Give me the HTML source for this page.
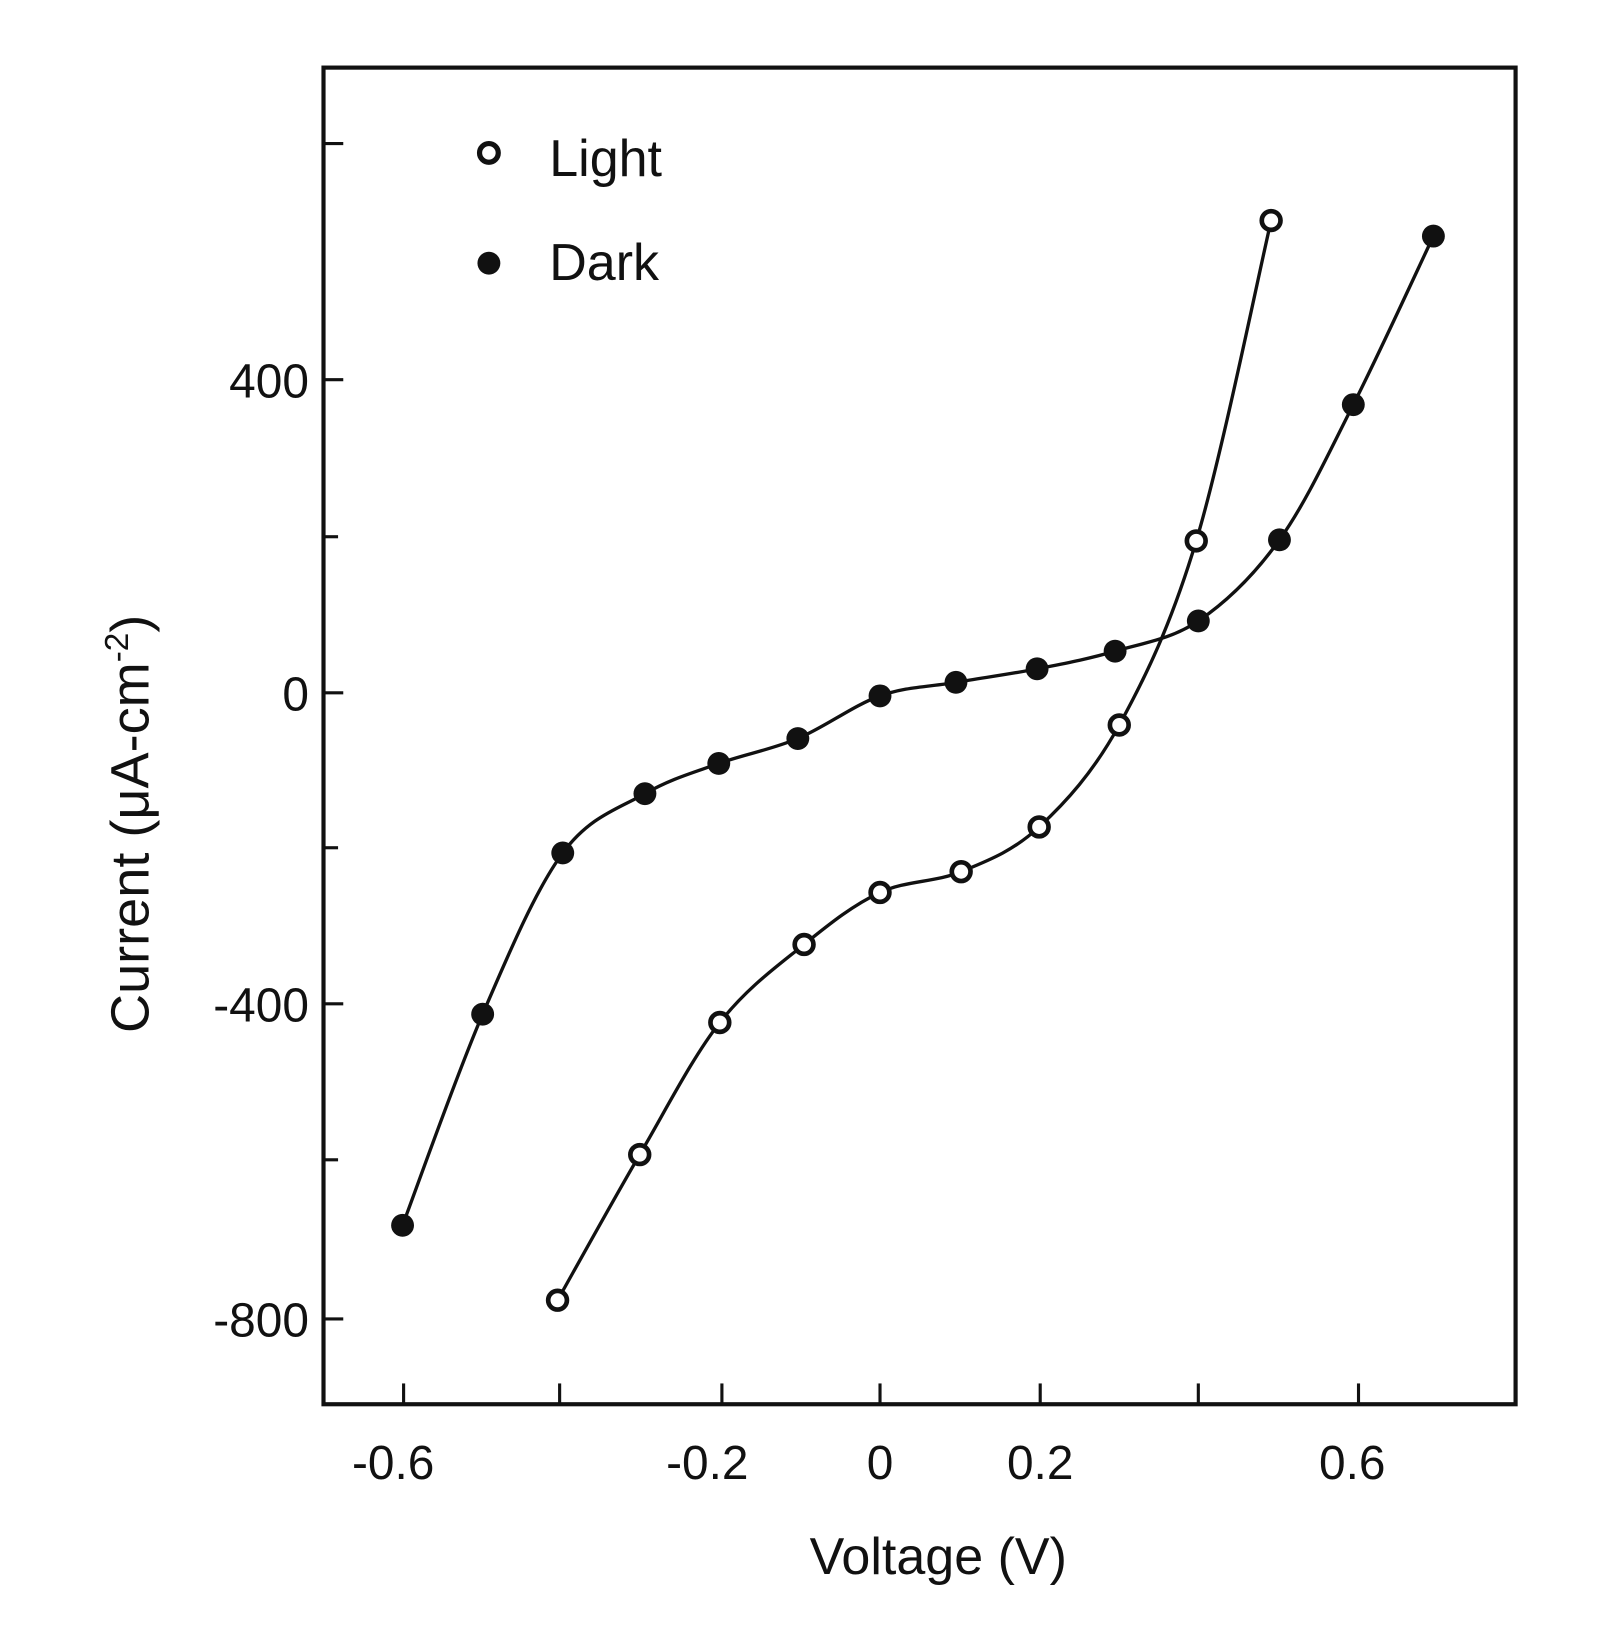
<!DOCTYPE html>
<html><head><meta charset="utf-8"><style>
html,body{margin:0;padding:0;background:#fff;}
svg{display:block;}
text{font-family:"Liberation Sans",sans-serif;fill:#111;}
</style></head><body>
<svg id="s" width="1604" height="1631" viewBox="0 0 1542 1568" preserveAspectRatio="none" xmlns="http://www.w3.org/2000/svg">
<rect x="0" y="0" width="1542" height="1568" fill="#fff"/>
<rect x="311" y="65" width="1146" height="1285" fill="none" stroke="#111" stroke-width="4"/>
<g stroke="#111" stroke-width="3">
<line x1="311" y1="138" x2="330" y2="138"/>
<line x1="311" y1="365" x2="330" y2="365"/>
<line x1="311" y1="516" x2="325" y2="516"/>
<line x1="311" y1="666" x2="330" y2="666"/>
<line x1="311" y1="815" x2="325" y2="815"/>
<line x1="311" y1="965" x2="330" y2="965"/>
<line x1="311" y1="1115" x2="325" y2="1115"/>
<line x1="311" y1="1268" x2="330" y2="1268"/>
<line x1="388" y1="1350" x2="388" y2="1330"/>
<line x1="538" y1="1350" x2="538" y2="1330"/>
<line x1="694" y1="1350" x2="694" y2="1330"/>
<line x1="846" y1="1350" x2="846" y2="1330"/>
<line x1="1000" y1="1350" x2="1000" y2="1330"/>
<line x1="1152" y1="1350" x2="1152" y2="1330"/>
<line x1="1306" y1="1350" x2="1306" y2="1330"/>
</g>
<g font-size="46" text-anchor="end">
<text x="297" y="382">400</text>
<text x="297" y="683">0</text>
<text x="297" y="982">-400</text>
<text x="297" y="1285">-800</text>
</g>
<g font-size="46" text-anchor="middle">
<text x="378" y="1422">-0.6</text>
<text x="680" y="1422">-0.2</text>
<text x="846" y="1422">0</text>
<text x="1000" y="1422">0.2</text>
<text x="1300" y="1422">0.6</text>
</g>
<text x="902" y="1513" font-size="50" text-anchor="middle">Voltage (V)</text>
<text transform="translate(143,792) rotate(-90)" font-size="52" text-anchor="middle">Current (μA-cm<tspan dy="-20" font-size="32">-2</tspan><tspan dy="20">)</tspan></text>
<circle cx="470" cy="147" r="9" fill="#fff" stroke="#111" stroke-width="5"/>
<text x="528" y="169" font-size="50">Light</text>
<circle cx="470" cy="253" r="11" fill="#111"/>
<text x="528" y="269" font-size="50">Dark</text>
<path id="pl" fill="none" stroke="#111" stroke-width="3.2"/>
<path id="pd" fill="none" stroke="#111" stroke-width="3.2"/>
<g id="ml"></g><g id="md"></g>
</svg>
<script>
var L=[[536,1250],[615,1110],[692,983],[773,908],[846,858],[924,838],[999,795],[1076,697],[1150,520],[1222,212]];
var D=[[387,1178],[464,975],[541,820],[620,763],[691,734],[767,710],[846,669],[919,656],[997,643],[1072,626],[1152,597],[1230,519],[1301,389],[1378,227]];
function cr(p){var d="M"+p[0][0]+","+p[0][1];for(var i=0;i<p.length-1;i++){var a=p[i-1]||p[i],b=p[i],c=p[i+1],e=p[i+2]||c;
d+=" C"+(b[0]+(c[0]-a[0])/6)+","+(b[1]+(c[1]-a[1])/6)+" "+(c[0]-(e[0]-b[0])/6)+","+(c[1]-(e[1]-b[1])/6)+" "+c[0]+","+c[1];}return d;}
document.getElementById("pl").setAttribute("d",cr(L));
document.getElementById("pd").setAttribute("d",cr(D));
var ns="http://www.w3.org/2000/svg";
L.forEach(function(p){var c=document.createElementNS(ns,"circle");c.setAttribute("cx",p[0]);c.setAttribute("cy",p[1]);c.setAttribute("r",9);c.setAttribute("fill","#fff");c.setAttribute("stroke","#111");c.setAttribute("stroke-width",4.5);document.getElementById("ml").appendChild(c);});
D.forEach(function(p){var c=document.createElementNS(ns,"circle");c.setAttribute("cx",p[0]);c.setAttribute("cy",p[1]);c.setAttribute("r",11);c.setAttribute("fill","#111");document.getElementById("md").appendChild(c);});
</script>
</body></html>
